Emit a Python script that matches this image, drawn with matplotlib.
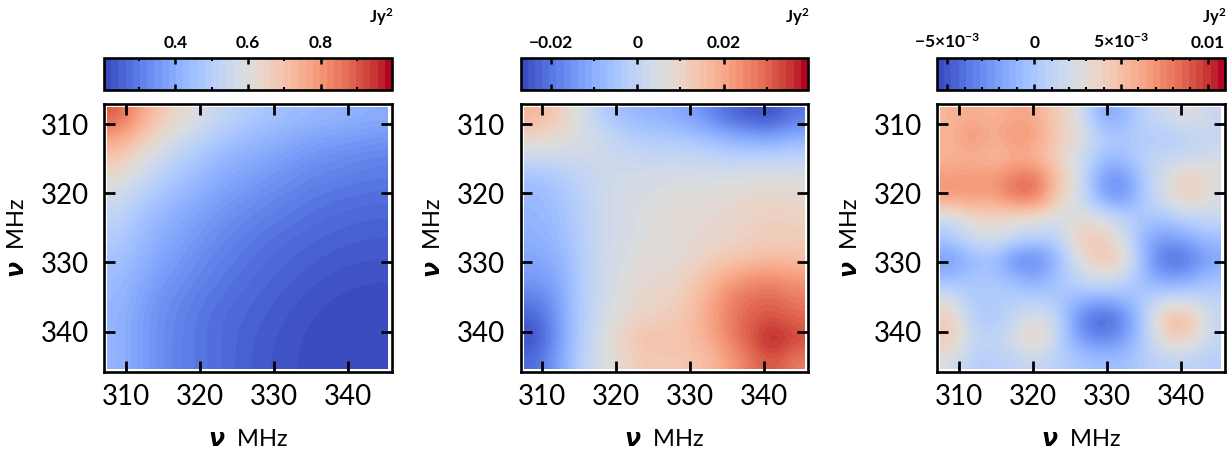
"""Three frequency-frequency covariance panels with colour bars on top."""

import matplotlib

matplotlib.use("Agg")
import matplotlib.pyplot as plt
import numpy as np
from matplotlib.cm import ScalarMappable
from matplotlib.colors import Normalize

plt.rcParams["font.family"] = ["Lato", "DejaVu Sans"]
plt.rcParams["mathtext.fontset"] = "dejavusans"
plt.rcParams["mathtext.default"] = "regular"

# Values on a regular grid, rows run from low to high frequency (Jy^2).
FREQ_TICKS = [310, 320, 330, 340]
X_LABEL = r"$\boldsymbol{\nu}$  MHz"

COV_TOTAL = [
    [0.90, 0.78, 0.69, 0.63, 0.57, 0.52, 0.49, 0.46, 0.44, 0.43, 0.42, 0.41, 0.40],
    [0.78, 0.70, 0.62, 0.56, 0.51, 0.47, 0.44, 0.42, 0.40, 0.38, 0.37, 0.36, 0.35],
    [0.69, 0.62, 0.55, 0.50, 0.46, 0.42, 0.40, 0.38, 0.36, 0.34, 0.33, 0.32, 0.31],
    [0.62, 0.56, 0.50, 0.46, 0.42, 0.39, 0.37, 0.35, 0.33, 0.315, 0.305, 0.295, 0.29],
    [0.56, 0.50, 0.46, 0.42, 0.39, 0.36, 0.34, 0.32, 0.305, 0.29, 0.28, 0.275, 0.27],
    [0.52, 0.46, 0.42, 0.39, 0.36, 0.335, 0.315, 0.30, 0.285, 0.272, 0.262, 0.255, 0.252],
    [0.49, 0.44, 0.40, 0.37, 0.34, 0.315, 0.295, 0.278, 0.265, 0.255, 0.248, 0.243, 0.24],
    [0.46, 0.42, 0.38, 0.35, 0.32, 0.30, 0.28, 0.265, 0.253, 0.243, 0.235, 0.23, 0.228],
    [0.44, 0.40, 0.36, 0.33, 0.305, 0.285, 0.268, 0.254, 0.242, 0.232, 0.224, 0.22, 0.217],
    [0.43, 0.38, 0.34, 0.315, 0.29, 0.272, 0.258, 0.244, 0.232, 0.222, 0.215, 0.21, 0.207],
    [0.42, 0.37, 0.33, 0.305, 0.28, 0.262, 0.25, 0.236, 0.225, 0.215, 0.208, 0.204, 0.202],
    [0.42, 0.37, 0.33, 0.30, 0.28, 0.26, 0.245, 0.231, 0.22, 0.211, 0.205, 0.202, 0.20],
    [0.42, 0.37, 0.33, 0.30, 0.28, 0.26, 0.243, 0.228, 0.218, 0.209, 0.203, 0.20, 0.198],
]
COV_MIDDLE = [
    [.018, .013, .006, -.002, -.007, -.009, -.010, -.012, -.017, -.022, -.025, -.026, -.020],
    [.010, .008, .006, .003, -.001, -.003, -.004, -.005, -.007, -.010, -.012, -.013, -.010],
    [.002, .002, .003, .003, .002, .001, .001, .001, .000, -.001, -.001, -.001, .000],
    [-.006, -.004, -.001, .002, .004, .004, .005, .005, .005, .005, .006, .006, .006],
    [-.008, -.006, -.002, .002, .004, .005, .006, .007, .007, .008, .009, .009, .009],
    [-.009, -.007, -.003, .002, .004, .006, .007, .008, .008, .009, .011, .012, .011],
    [-.010, -.008, -.003, .002, .004, .006, .007, .008, .009, .010, .011, .012, .012],
    [-.012, -.010, -.004, .002, .005, .007, .007, .008, .011, .013, .015, .016, .015],
    [-.014, -.012, -.004, .002, .006, .008, .009, .011, .016, .021, .024, .025, .023],
    [-.019, -.014, -.004, .002, .007, .009, .010, .013, .019, .026, .029, .030, .027],
    [-.024, -.015, -.004, .003, .008, .011, .012, .014, .020, .027, .031, .033, .030],
    [-.026, -.016, -.004, .004, .011, .015, .015, .015, .019, .026, .032, .0395, .034],
    [-.022, -.014, -.003, .004, .009, .013, .013, .013, .016, .022, .028, .033, .027],
]
COV_RESIDUAL = [
    [5.5, 6.0, 5.5, 6.3, 6.0, 4.0, 2.5, -2.0, -1.0, 1.0, 2.0, 3.0, 1.5],
    [5.5, 7.3, 5.8, 7.3, 6.3, 4.5, 3.0, 0.5, 0.0, 0.5, 0.0, 0.8, 1.5],
    [5.5, 5.8, 5.0, 5.8, 5.5, 3.5, 2.0, -0.5, -0.5, 1.0, 1.5, 1.5, 2.0],
    [6.8, 7.0, 6.8, 8.3, 8.3, 5.0, 2.0, -2.5, -3.0, 0.5, 2.5, 4.5, 3.0],
    [6.8, 6.8, 6.5, 8.3, 8.3, 4.0, 2.0, -2.0, -3.0, 0.5, 2.5, 4.5, 2.5],
    [1.5, 3.5, 3.5, 3.0, 3.0, 2.0, 3.0, 2.5, 1.0, 0.0, 0.0, 1.0, 1.5],
    [0.0, 2.0, 2.5, 1.5, 0.5, 1.0, 4.5, 4.5, 2.0, -1.5, -2.5, -1.5, -0.5],
    [-2.5, -1.0, -0.5, -3.5, -3.5, -1.0, 3.0, 5.0, 4.0, -1.5, -4.5, -4.0, -2.0],
    [-1.0, 0.0, 0.0, -1.0, -2.0, 0.0, 1.5, 2.5, 1.5, -1.0, -2.5, -2.0, -0.5],
    [2.5, 0.0, 0.5, 0.5, 0.5, 0.0, -1.0, -1.5, -1.0, 0.5, 1.5, 1.5, 1.0],
    [4.5, 0.5, 0.0, 1.5, 3.0, 1.0, -3.5, -5.0, -3.5, 0.5, 5.5, 5.5, 1.5],
    [4.5, 1.5, 1.0, 2.5, 4.5, 1.0, -2.5, -3.5, -2.5, 0.5, 4.0, 4.0, 1.5],
    [2.5, 0.5, 0.5, 1.0, 1.5, 0.5, 0.0, -0.5, -0.5, 0.5, 1.0, 1.0, 0.5],
]

W, H = 1231, 453


def px_axes(fig, left, top, right, bottom):
    return fig.add_axes([left / W, 1 - bottom / H, (right - left) / W, (bottom - top) / H])


def draw_panel(fig, left, right, grid, vmin, vmax, major, labels, minor):
    norm = Normalize(vmin, vmax)

    ax = px_axes(fig, left + 1, 104, right - 1, 372)
    ax.imshow(
        np.asarray(grid),
        cmap=plt.get_cmap("coolwarm", 64),
        norm=norm,
        extent=(307.55, 345.4, 345.4, 307.58),
        aspect="auto",
        interpolation="bicubic",
        interpolation_stage="data",
    )
    ax.set_xlim(307.1, 345.93)
    ax.set_ylim(345.85, 307.1)
    ax.set_xticks(FREQ_TICKS)
    ax.set_yticks(FREQ_TICKS)
    ax.tick_params(
        which="major", direction="in", top=True, right=True,
        length=8, width=2, labelsize=20,
    )
    ax.tick_params(axis="x", pad=8.5)
    ax.tick_params(axis="y", pad=11)
    ax.set_xlabel(X_LABEL, fontsize=17, labelpad=14)
    ax.set_ylabel(X_LABEL, fontsize=17, labelpad=9)
    for spine in ax.spines.values():
        spine.set_linewidth(1.9)

    cax = px_axes(fig, left + 1, 58, right - 1, 90)
    cb = fig.colorbar(
        ScalarMappable(norm=norm, cmap=plt.get_cmap("coolwarm", 40)),
        cax=cax,
        orientation="horizontal",
    )
    cax.set_xticks(major, labels)
    cax.set_xticks(minor, minor=True)
    cax.tick_params(
        which="major", direction="in", top=True, bottom=True, labeltop=True,
        labelbottom=False, length=4.5, width=1.8, labelsize=12.5, pad=5,
    )
    cax.tick_params(which="minor", direction="in", top=True, bottom=True, length=2.5, width=1.5)
    for label in cax.get_xticklabels():
        label.set_fontweight("bold")
    cb.outline.set_linewidth(1.9)
    fig.text(right / W, 1 - 23 / H, "Jy$^{2}$", ha="right", va="baseline", fontsize=12, fontweight="bold")


def main():
    fig = plt.figure(figsize=(W / 100, H / 100), dpi=100)

    draw_panel(
        fig, 103, 393, COV_TOTAL, 0.203, 0.997,
        [0.4, 0.6, 0.8], ["0.4", "0.6", "0.8"], [0.3, 0.5, 0.7, 0.9],
    )
    draw_panel(
        fig, 519.5, 809, COV_MIDDLE, -0.027, 0.0395,
        [-0.02, 0, 0.02], ["\u22120.02", "0", "0.02"], [-0.01, 0.01, 0.03],
    )
    draw_panel(
        fig, 936, 1226, np.asarray(COV_RESIDUAL) * 1e-3, -5.6e-3, 0.011,
        [-5e-3, 0, 5e-3, 0.01],
        [r"$-5{\times}10^{-3}$", "0", r"$5{\times}10^{-3}$", "0.01"],
        [-4e-3, -3e-3, -2e-3, -1e-3, 1e-3, 2e-3, 3e-3, 4e-3, 6e-3, 7e-3, 8e-3, 9e-3],
    )

    fig.savefig("out.png", dpi=100)
    plt.close(fig)


if __name__ == "__main__":
    main()
